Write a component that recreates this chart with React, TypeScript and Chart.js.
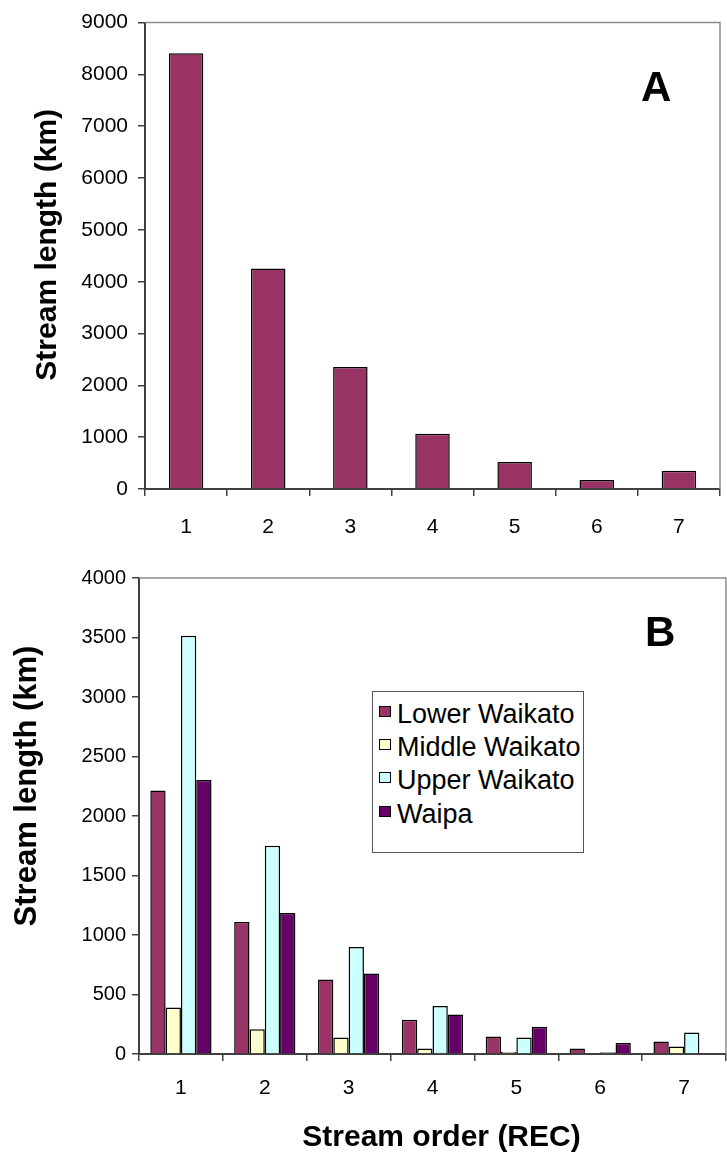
import React, { useEffect, useRef } from "react";
import { Chart, registerables } from "chart.js";

Chart.register(...registerables);

// ---------- data ----------
const streamOrders = ["1", "2", "3", "4", "5", "6", "7"];
const totalStreamLength = [8410, 4255, 2355, 1065, 520, 175, 350];

const seriesNames = ["Lower Waikato", "Middle Waikato", "Upper Waikato", "Waipa"];
const lowerWaikato = [2214, 1109, 627, 287, 148, 47, 106];
const middleWaikato = [390, 209, 139, 47, 17, 0, 64];
const upperWaikato = [3515, 1751, 900, 404, 139, 14, 181];
const waipa = [2303, 1184, 677, 331, 228, 92, 0];
const seriesColors = ["#993366", "#FFFFCC", "#CCFFFF", "#660066"];

const yMaxA = 9000;
const yStepA = 1000;
const yMaxB = 4000;
const yStepB = 500;

const yTitle = "Stream length (km)";
const xTitle = "Stream order (REC)";

const FONT = "'Liberation Sans', Arial, Helvetica, sans-serif";
const AXIS = "#404040";

const framePlugin = {
  id: "frame",
  beforeDatasetsDraw(chart: any) {
    const { ctx, chartArea } = chart;
    const { left, top, right, bottom } = chartArea;
    ctx.save();
    ctx.strokeStyle = "#8c8c8c";
    ctx.lineWidth = 1.5;
    ctx.beginPath();
    ctx.moveTo(left, top);
    ctx.lineTo(right, top);
    ctx.lineTo(right, bottom);
    ctx.stroke();
    ctx.restore();
  },
};

// Axis titles placed like the original figure (offset from the axis centre)
const titlesPlugin = {
  id: "placedTitles",
  afterDraw(chart: any, _args: any, opts: any) {
    const items = (opts && opts.items) || [];
    const { ctx, chartArea } = chart;
    items.forEach((it: any) => {
      ctx.save();
      ctx.font = `bold ${it.size}px ${FONT}`;
      ctx.fillStyle = "#000";
      ctx.textAlign = "center";
      ctx.textBaseline = "middle";
      const cx = it.axis === "y" ? it.x : (chartArea.left + chartArea.right) / 2 + it.dx;
      const cy = it.axis === "y" ? (chartArea.top + chartArea.bottom) / 2 + it.dy : it.y;
      ctx.translate(cx, cy);
      if (it.axis === "y") ctx.rotate(-Math.PI / 2);
      ctx.fillText(it.text, 0, 0);
      ctx.restore();
    });
  },
};

function makeOptions(cfg: {
  yWidth: number;
  xHeight: number;
  padTop: number;
  padRight: number;
  yMax: number;
  yStep: number;
  yTickSize: number;
  yTickPad: number;
  xTickPad: number;
  titles: any[];
}) {
  return {
    responsive: false,
    animation: false as const,
    layout: { padding: { top: cfg.padTop, right: cfg.padRight, left: 0, bottom: 0 } },
    plugins: {
      legend: { display: false },
      tooltip: { enabled: false },
      placedTitles: { items: cfg.titles },
    },
    scales: {
      x: {
        offset: true,
        grid: {
          offset: true,
          drawOnChartArea: false,
          drawTicks: true,
          tickLength: 7,
          color: AXIS,
          lineWidth: 1.5,
        },
        border: { display: true, color: AXIS, width: 2 },
        ticks: {
          color: "#000",
          font: { family: FONT, size: 21 },
          padding: cfg.xTickPad,
          maxRotation: 0,
        },
        afterFit: (s: any) => {
          s.height = cfg.xHeight;
        },
      },
      y: {
        min: 0,
        max: cfg.yMax,
        grid: {
          drawOnChartArea: false,
          drawTicks: true,
          tickLength: 7,
          color: AXIS,
          lineWidth: 1.5,
        },
        border: { display: true, color: AXIS, width: 2 },
        ticks: {
          stepSize: cfg.yStep,
          color: "#000",
          font: { family: FONT, size: cfg.yTickSize },
          padding: cfg.yTickPad,
          callback: (v: any) => String(v),
        },
        afterFit: (s: any) => {
          s.width = cfg.yWidth;
        },
      },
    },
  };
}

function ChartA() {
  const ref = useRef<HTMLCanvasElement | null>(null);
  useEffect(() => {
    if (!ref.current) return;
    const chart = new Chart(ref.current, {
      type: "bar",
      data: {
        labels: streamOrders,
        datasets: [
          {
            label: "Total",
            data: totalStreamLength,
            backgroundColor: seriesColors[0],
            borderColor: "#000",
            borderWidth: 1.5,
            barPercentage: 0.42,
            categoryPercentage: 1,
          },
        ],
      },
      options: makeOptions({
        yWidth: 145,
        xHeight: 71,
        padTop: 16,
        padRight: 7,
        yMax: yMaxA,
        yStep: yStepA,
        yTickSize: 21,
        yTickPad: 10,
        xTickPad: 19,
        titles: [{ axis: "y", text: yTitle, size: 30, x: 48, dy: -11 }],
      }) as any,
      plugins: [framePlugin, titlesPlugin],
    });
    return () => chart.destroy();
  }, []);
  return (
    <canvas
      ref={ref}
      width={727}
      height={560}
      style={{ position: "absolute", left: 0, top: 0, width: 727, height: 560 }}
    />
  );
}

function ChartB() {
  const ref = useRef<HTMLCanvasElement | null>(null);
  useEffect(() => {
    if (!ref.current) return;
    const values = [lowerWaikato, middleWaikato, upperWaikato, waipa];
    const chart = new Chart(ref.current, {
      type: "bar",
      data: {
        labels: streamOrders,
        datasets: seriesNames.map((name, i) => ({
          label: name,
          data: values[i],
          backgroundColor: seriesColors[i],
          borderColor: "#000",
          borderWidth: 1.5,
          barPercentage: 1,
          categoryPercentage: 0.73,
        })),
      },
      options: makeOptions({
        yWidth: 139,
        xHeight: 103,
        padTop: 16,
        padRight: 1,
        yMax: yMaxB,
        yStep: yStepB,
        yTickSize: 20,
        yTickPad: 6,
        xTickPad: 15,
        titles: [
          { axis: "y", text: yTitle, size: 31, x: 27, dy: -30 },
          { axis: "x", text: xTitle, size: 30, y: 578, dx: 9 },
        ],
      }) as any,
      plugins: [framePlugin, titlesPlugin],
    });
    return () => chart.destroy();
  }, []);
  return (
    <canvas
      ref={ref}
      width={727}
      height={597}
      style={{ position: "absolute", left: 0, top: 560, width: 727, height: 597 }}
    />
  );
}

function Legend() {
  return (
    <div
      style={{
        position: "absolute",
        left: 372,
        top: 691,
        width: 212,
        height: 162,
        boxSizing: "border-box",
        border: "1.5px solid #555",
        background: "#fff",
        fontFamily: FONT,
      }}
    >
      {seriesNames.map((name, i) => (
        <div
          key={name}
          style={{
            position: "absolute",
            left: 0,
            top: 6 + i * 33.2,
            height: 33,
            lineHeight: "33px",
            fontSize: 27,
            whiteSpace: "nowrap",
            color: "#000",
          }}
        >
          <span
            style={{
              position: "absolute",
              left: 6,
              top: 8,
              width: 12,
              height: 11,
              boxSizing: "border-box",
              border: "1.5px solid #000",
              background: seriesColors[i],
            }}
          />
          <span style={{ position: "absolute", left: 24, top: 0 }}>{name}</span>
        </div>
      ))}
    </div>
  );
}

export default function App() {
  return (
    <div
      style={{
        position: "fixed",
        left: 0,
        top: 0,
        width: 727,
        height: 1157,
        background: "#fff",
        overflow: "hidden",
      }}
    >
      <ChartA />
      <ChartB />
      <div
        style={{
          position: "absolute",
          left: 641,
          top: 66,
          fontFamily: FONT,
          fontWeight: "bold",
          fontSize: 42,
          lineHeight: "42px",
          color: "#000",
        }}
      >
        A
      </div>
      <div
        style={{
          position: "absolute",
          left: 645,
          top: 611,
          fontFamily: FONT,
          fontWeight: "bold",
          fontSize: 42,
          lineHeight: "42px",
          color: "#000",
        }}
      >
        B
      </div>
      <Legend />
    </div>
  );
}
